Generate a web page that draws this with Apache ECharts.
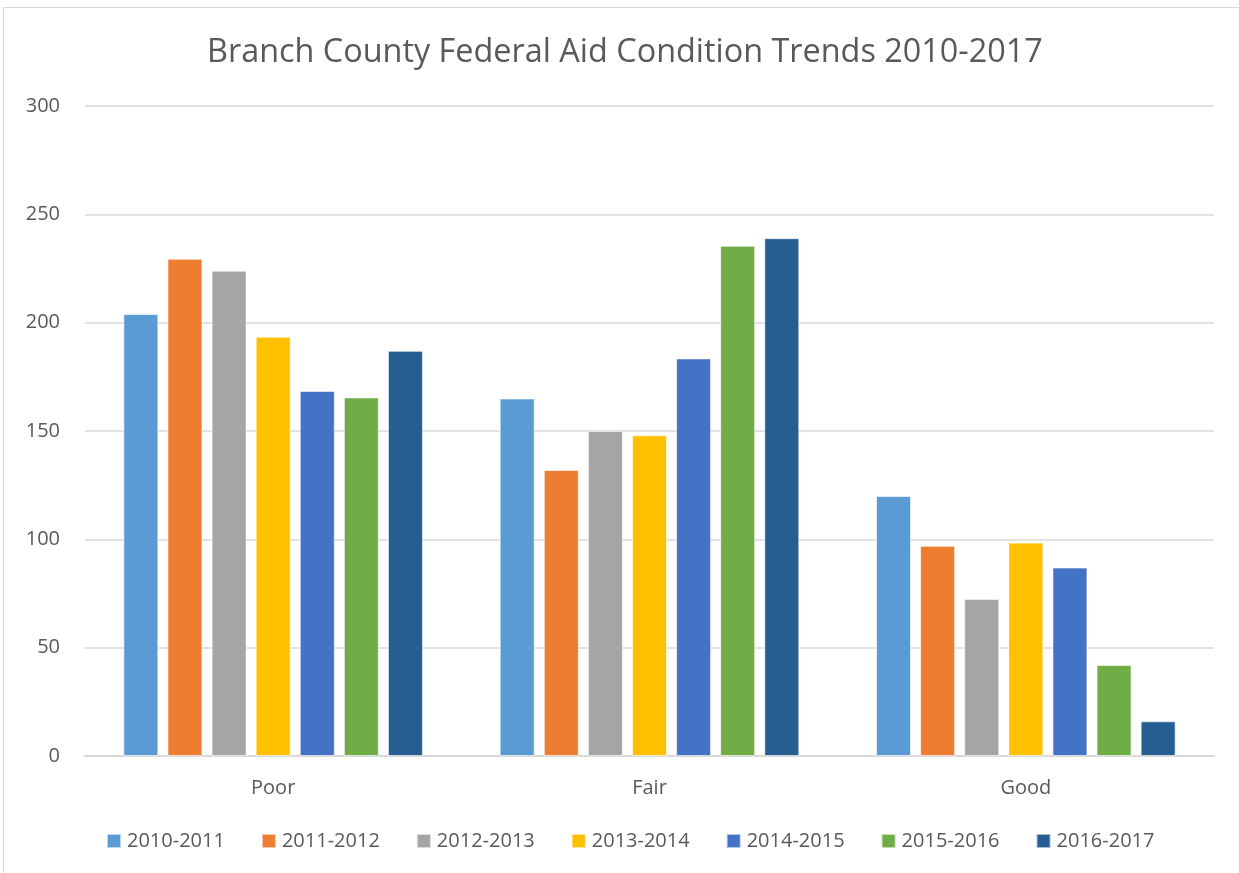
<!DOCTYPE html>
<html>
<head>
<meta charset="utf-8">
<script src="https://cdn.jsdelivr.net/npm/echarts@6/dist/echarts.min.js"></script>
<style>
  html, body { margin: 0; padding: 0; background: #fff; }
  #frame { position: absolute; left: 3px; top: 7px; width: 1240px; height: 870px; border: 1px solid #d9d9d9; box-sizing: border-box; }
  #chart { width: 1239px; height: 873px; }
</style>
</head>
<body>
<div id="frame"></div>
<div id="chart"></div>
<script>
var categories = ['Poor', 'Fair', 'Good'];
var seriesNames = ['2010-2011', '2011-2012', '2012-2013', '2013-2014', '2014-2015', '2015-2016', '2016-2017'];
var v2010 = [204, 165, 120];
var v2011 = [229.5, 132, 97];
var v2012 = [224, 150, 72.5];
var v2013 = [193.5, 148, 98.5];
var v2014 = [168.5, 183.5, 87];
var v2015 = [165.5, 235.5, 42];
var v2016 = [187, 239, 16];
var yTicks = [0, 50, 100, 150, 200, 250, 300];

var colors = ['#5B9BD5', '#ED7D31', '#A5A5A5', '#FFC000', '#4472C4', '#70AD47', '#255E91'];
var values = [v2010, v2011, v2012, v2013, v2014, v2015, v2016];
var font = '"Open Sans", sans-serif';

var chart = echarts.init(document.getElementById('chart'));
chart.setOption({
  animation: false,
  color: colors,
  title: {
    text: 'Branch County Federal Aid Condition Trends 2010-2017',
    left: 202,
    top: 32,
    textStyle: { fontFamily: font, fontSize: 32.4, fontWeight: 'normal', color: '#595959' }
  },
  legend: {
    data: seriesNames,
    bottom: 17,
    left: 101,
    itemWidth: 14,
    itemHeight: 14,
    itemGap: 36,
    icon: 'rect',
    textStyle: { fontFamily: font, fontSize: 20, color: '#595959', padding: [0, 0, 0, 1] }
  },
  grid: { left: 85, right: 25, top: 106, bottom: 117 },
  xAxis: {
    type: 'category',
    data: categories,
    axisLine: { lineStyle: { color: '#d9d9d9', width: 2 } },
    axisTick: { show: false },
    axisLabel: { fontFamily: font, fontSize: 20, color: '#595959', margin: 22 }
  },
  yAxis: {
    type: 'value',
    min: yTicks[0],
    max: yTicks[yTicks.length - 1],
    interval: 50,
    axisLine: { show: false },
    axisTick: { show: false },
    splitLine: { lineStyle: { color: '#d9d9d9', width: 1.5 } },
    axisLabel: { fontFamily: font, fontSize: 20, color: '#595959', margin: 25 }
  },
  series: seriesNames.map(function (name, i) {
    return {
      name: name,
      type: 'bar',
      data: values[i],
      barWidth: 35,
      barGap: '26%',
      itemStyle: { borderColor: 'rgba(255,255,255,0.6)', borderWidth: 1 }
    };
  })
});
</script>
</body>
</html>
